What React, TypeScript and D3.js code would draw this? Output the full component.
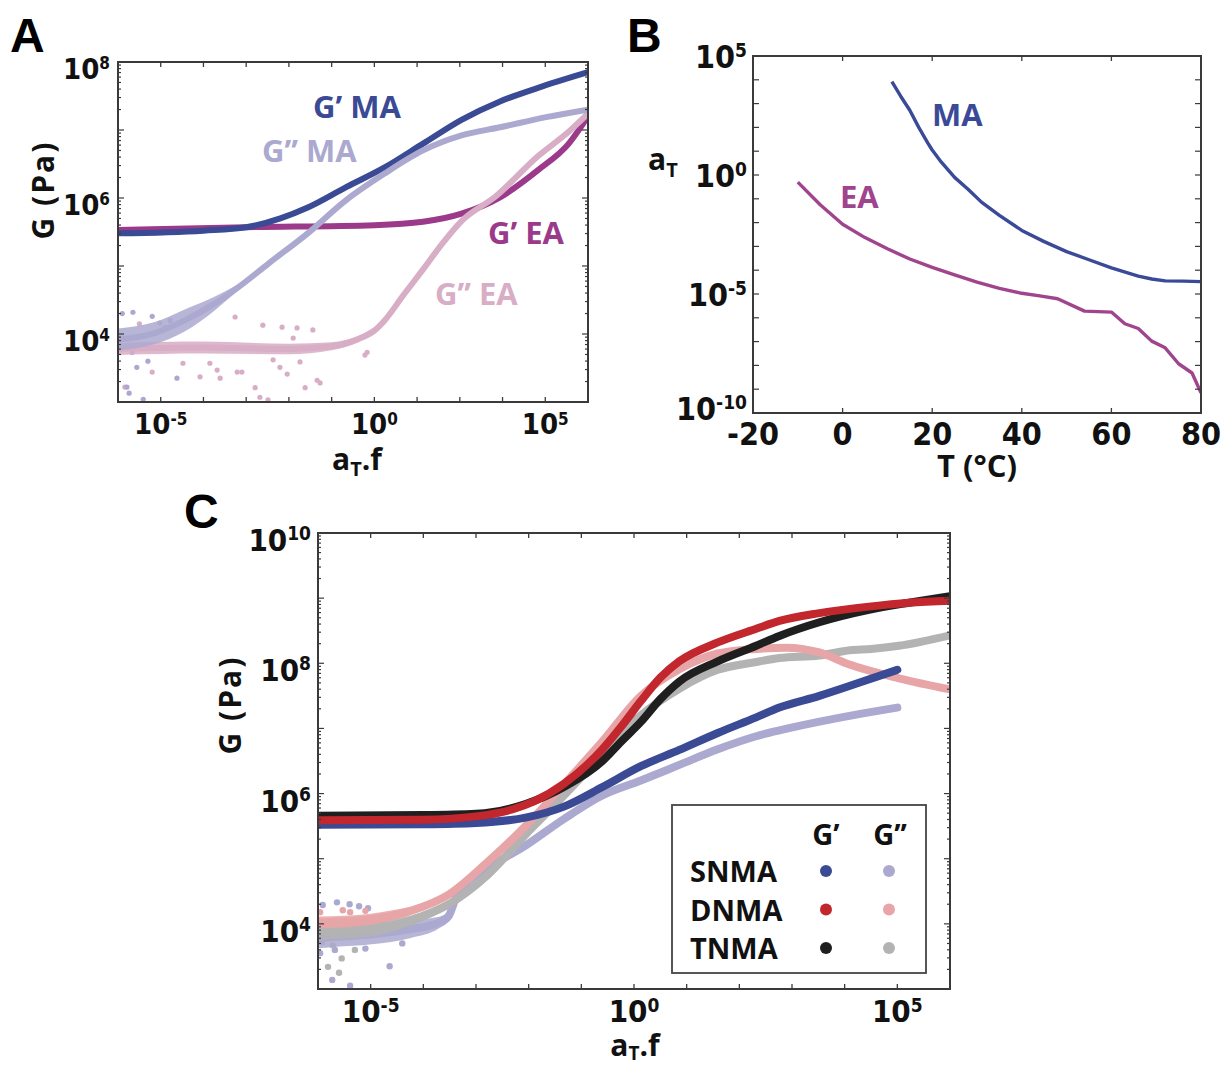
import React from 'react';
import * as d3 from 'd3';

type Pt = [number, number];

// ---------- Panel A data (log10 aT.f, log10 G) ----------
const A_GP_MA: Pt[] = [[-6,5.48],[-4,5.52],[-3,5.57],[-2.2,5.70],[-1.56,5.86],[-0.66,6.16],[0.24,6.45],[1.14,6.80],[2.04,7.15],[2.94,7.42],[3.83,7.62],[5,7.85]];
const A_GPP_MA: Pt[] = [[-6,3.92],[-5.16,4.01],[-4.44,4.2],[-3.73,4.45],[-3.18,4.69],[-2.47,5.04],[-1.56,5.48],[-0.66,5.97],[0.24,6.36],[1.14,6.70],[2.04,6.92],[2.94,7.04],[4.02,7.19],[5,7.3]];
const A_GP_EA: Pt[] = [[-6,5.53],[-3,5.57],[0,5.60],[1.14,5.65],[2.04,5.77],[2.94,6.01],[3.83,6.41],[4.55,6.80],[5,7.2]];
const A_GPP_EA: Pt[] = [[-6,3.78],[-4,3.8],[-2,3.78],[-1,3.82],[-0.4,3.92],[0,4.05],[0.24,4.2],[0.69,4.58],[1.14,4.95],[1.59,5.33],[2.04,5.66],[2.85,6.03],[3.84,6.62],[4.56,6.98],[5,7.24]];
const A_OUT_LAV: Pt[] = [[-5.65,4.32],[-5.2,4.26],[-4.62,3.35],[-5.74,3.13],[-5.41,3.04],[-5.95,3.91],[-5.67,3.73],[-5.56,3.51],[-4.78,4.2],[-5.02,4.16],[-5.79,3.22],[-5.9,4.3],[-5.3,3.6]];
const A_OUT_PINK: Pt[] = [[-5.84,3.22],[-5.2,3.44],[-3.68,3.47],[-3.61,3.35],[-3.21,3.44],[-3.1,3.44],[-2.79,3.21],[-2.68,3.07],[-2.49,3.03],[-2.04,3.41],[-2.37,3.62],[-2.21,3.51],[-1.74,3.59],[-1.62,3.21],[-1.34,3.32],[-1.27,3.28],[-0.17,3.73],[-0.22,3.69],[-3.26,4.25],[-2.61,4.13],[-2.16,4.1],[-1.81,4.09],[-1.44,4.06],[-1.9,3.94],[-3.85,3.57],[-4.08,3.37],[-4.48,3.57],[-5.5,4.15],[-4.9,4.1]];
const A_Y_TICKS = [4, 6, 8];
const A_X_TICK_POS = [-5, 0, 4];
const A_X_TICK_TXT = ['-5', '0', '5'];

// ---------- Panel B data (T in °C, log10 aT) ----------
const B_MA_T = [11,13,15,17,19,20,22,25,28,31,35,40,45,50,55,60,66,69,72,76,80];
const B_MA_A = [3.92,3.3,2.72,2.0,1.35,1.05,0.55,-0.1,-0.6,-1.14,-1.7,-2.33,-2.8,-3.22,-3.56,-3.9,-4.25,-4.37,-4.45,-4.46,-4.48];
const B_EA_T = [-10,-5,0,5,10,15,20,25,30,35,40,44,48,54,60,63,66,69,72,75,78,80];
const B_EA_A = [-0.3,-1.25,-2.07,-2.63,-3.1,-3.53,-3.88,-4.2,-4.5,-4.76,-4.97,-5.08,-5.2,-5.72,-5.76,-6.25,-6.45,-6.98,-7.26,-7.93,-8.32,-9.15];
const B_X_TICKS = [-20, 0, 20, 40, 60, 80];
const B_Y_LABELS = [5, 0, -5, -10];

// ---------- Panel C data (log10 aT.f, log10 G) ----------
const C_SN_GP: Pt[] = [[-6,5.52],[-4,5.53],[-3,5.55],[-2.06,5.63],[-1.33,5.8],[-0.6,6.1],[0.13,6.42],[0.86,6.67],[1.59,6.93],[2.32,7.17],[2.76,7.32],[3.52,7.5],[4.27,7.7],[5,7.9]];
const C_SN_GPP: Pt[] = [[-6,3.78],[-5.7,3.8],[-4.98,3.84],[-4.24,3.92],[-3.7,4.02],[-3.52,4.12],[-3.36,4.44],[-2.78,4.85],[-2.06,5.2],[-1.33,5.61],[-0.6,5.97],[0.13,6.2],[0.86,6.44],[1.59,6.68],[2.32,6.88],[2.76,6.97],[3.5,7.1],[4.27,7.22],[5,7.32]];
const C_DN_GP: Pt[] = [[-6,5.59],[-4,5.6],[-3,5.65],[-2.3,5.76],[-1.9,5.88],[-1.33,6.15],[-0.6,6.68],[-0.24,7.03],[0.13,7.42],[0.5,7.78],[0.86,8.03],[1.59,8.32],[2.32,8.53],[2.76,8.65],[3.52,8.77],[4.46,8.87],[5.22,8.93],[6,8.96]];
const C_DN_GPP: Pt[] = [[-6,4.02],[-5,4.07],[-4.24,4.2],[-3.52,4.45],[-2.78,4.95],[-2.06,5.5],[-1.33,6.14],[-0.6,6.8],[0.13,7.5],[0.86,7.91],[1.59,8.15],[2.32,8.22],[2.9,8.24],[3.5,8.17],[4.09,7.98],[5.03,7.77],[6,7.6]];
const C_TN_GP: Pt[] = [[-6,5.66],[-4,5.67],[-3,5.69],[-2.06,5.84],[-1.33,6.1],[-0.6,6.5],[-0.24,6.8],[0.13,7.1],[0.5,7.45],[0.86,7.72],[1.59,8.03],[2.32,8.27],[2.76,8.42],[3.52,8.63],[4.46,8.82],[5.22,8.93],[6,9.03]];
const C_TN_GPP: Pt[] = [[-6,3.88],[-5,3.93],[-4.24,4.05],[-3.52,4.3],[-2.78,4.75],[-2.06,5.37],[-1.33,5.97],[-0.6,6.6],[0.13,7.2],[0.86,7.61],[1.59,7.9],[2.32,8.02],[2.76,8.08],[3.52,8.12],[4.1,8.2],[4.5,8.22],[5.03,8.27],[6,8.43]];
const C_OUT_LAV: Pt[] = [[-5.91,4.29],[-5.64,4.33],[-5.39,3.05],[-5.73,3.14],[-4.64,3.35],[-5.22,4.27],[-5.05,4.24],[-5.96,3.55],[-5.68,3.6],[-5.4,4.3],[-4.8,4.05],[-5.1,3.62],[-4.4,3.7]];
const C_OUT_GRAY: Pt[] = [[-5.81,3.34],[-5.6,3.25],[-5.55,3.47],[-5.92,3.72],[-5.72,3.67],[-5.3,3.6]];
const C_OUT_PINK: Pt[] = [[-5.96,4.18],[-5.83,4.01],[-5.53,4.21],[-5.39,4.18],[-5.1,4.2]];
const C_Y_TICKS = [4, 6, 8, 10];
const C_X_TICKS = [-5, 0, 5];
const LEGEND_ROWS = ['SNMA', 'DNMA', 'TNMA'];
const LEGEND_COLS = ['G’', 'G’’'];

// ---------- colours ----------
const COL = {
  blue: '#3a4a94', lav: '#aba9d0', mag: '#9b3a8a', pinkEA: '#d8adc6',
  red: '#c1272d', pink: '#e8a5a7', black: '#1f1f1f', gray: '#b3b3b3',
  bMA: '#3b4a98', bEA: '#a0448e', frame: '#3a3a3a',
};
const LEGEND_COLORS = [[COL.blue, COL.lav], [COL.red, COL.pink], [COL.black, COL.gray]];

const TICK_FONT = "'Liberation Sans Narrow','DejaVu Sans Condensed','Arial Narrow',sans-serif";
const LABEL_FONT = "'Open Sans','Noto Sans',sans-serif";
const LETTER_FONT = "'Liberation Sans',Arial,sans-serif";

const p10 = (v: number) => Math.pow(10, v);

type Series = { pts: Pt[]; color: string; w: number; noisyTo?: number; noisyW?: number };

function SeriesPaths({ s, sx, sy }: { s: Series; sx: any; sy: any }) {
  const line = d3.line<Pt>().x(d => sx(p10(d[0]))).y(d => sy(p10(d[1]))).curve(d3.curveMonotoneX);
  let band: string | null = null;
  if (s.noisyTo !== undefined && s.noisyW) {
    const to = s.noisyTo;
    const idx = s.pts.findIndex(d => d[0] > to);
    const pts = idx < 0 ? s.pts : s.pts.slice(0, idx + 1);
    const xa = pts[0][0];
    const full = s.noisyW / 2, thin = s.w / 2;
    const hw = (d: Pt) => {
      const t = Math.min(1, Math.max(0, (d[0] - xa) / (to - xa)));
      if (d[0] > to) return thin;
      return t < 0.6 ? full : full + (thin - full) * ((t - 0.6) / 0.4);
    };
    const area = d3.area<Pt>()
      .x(d => sx(p10(d[0])))
      .y0(d => sy(p10(d[1])) + hw(d))
      .y1(d => sy(p10(d[1])) - hw(d))
      .curve(d3.curveMonotoneX);
    band = area(pts);
  }
  return (
    <g>
      {band && <path d={band} fill={s.color} opacity={0.85} />}
      <path d={line(s.pts) || ''} fill="none" stroke={s.color} strokeWidth={s.w} strokeLinecap="round" strokeLinejoin="round" />
    </g>
  );
}

function Dots({ pts, color, r, sx, sy }: { pts: Pt[]; color: string; r: number; sx: any; sy: any }) {
  return <g>{pts.map((d, i) => <circle key={i} cx={sx(p10(d[0]))} cy={sy(p10(d[1]))} r={r} fill={color} />)}</g>;
}

function LogYTicks({ sy, lo, hi, x0, x1, minor = true }: { sy: any; lo: number; hi: number; x0: number; x1: number; minor?: boolean }) {
  const els: any[] = [];
  for (let e = lo; e <= hi; e++) {
    const y = sy(p10(e));
    els.push(<line key={'M' + e} x1={x0} x2={x0 + 6} y1={y} y2={y} />);
    els.push(<line key={'m' + e} x1={x1} x2={x1 - 6} y1={y} y2={y} />);
    if (minor && e < hi) {
      for (let k = 2; k <= 9; k++) {
        const yy = sy(k * p10(e));
        els.push(<line key={`a${e}_${k}`} x1={x0} x2={x0 + 3} y1={yy} y2={yy} />);
        els.push(<line key={`b${e}_${k}`} x1={x1} x2={x1 - 3} y1={yy} y2={yy} />);
      }
    }
  }
  return <g stroke={COL.frame} strokeWidth={1.2}>{els}</g>;
}

function XTicks({ xs, y0, y1, len = 5 }: { xs: number[]; y0: number; y1: number; len?: number }) {
  return (
    <g stroke={COL.frame} strokeWidth={1.3}>
      {xs.map((x, i) => (
        <g key={i}>
          <line x1={x} x2={x} y1={y1} y2={y1 - len} />
          <line x1={x} x2={x} y1={y0} y2={y0 + len} />
        </g>
      ))}
    </g>
  );
}

function Pow({ x, y, exp, size, supSize, anchor, dy }: { x: number; y: number; exp: string; size: number; supSize: number; anchor: string; dy: number }) {
  return (
    <text x={x} y={y} fontFamily={TICK_FONT} fontWeight={700} fontSize={size} textAnchor={anchor as any} fill="#111">
      10<tspan fontSize={supSize} dy={-dy}>{exp}</tspan>
    </text>
  );
}

export default function App() {
  // ----- Panel A -----
  const A = { x0: 118, x1: 588, y0: 62, y1: 402 };
  const ax = d3.scaleLog().domain([1e-6, 1e5]).range([A.x0, A.x1]);
  const ay = d3.scaleLog().domain([1e3, 1e8]).range([A.y1, A.y0]);
  const aXticks = d3.range(-5, 5).map(e => ax(p10(e)));

  // ----- Panel B -----
  const B = { x0: 753, x1: 1201, y0: 56, y1: 413 };
  const bx = d3.scaleLinear().domain([-20, 80]).range([B.x0, B.x1]);
  const by = d3.scaleLog().domain([1e-10, 1e5]).range([B.y1, B.y0]);
  const bLine = d3.line<[number, number]>().x(d => bx(d[0])).y(d => by(p10(d[1])));
  const maPts = B_MA_T.map((t, i) => [t, B_MA_A[i]] as [number, number]);
  const eaPts = B_EA_T.map((t, i) => [t, B_EA_A[i]] as [number, number]);

  // ----- Panel C -----
  const C = { x0: 318, x1: 950, y0: 533, y1: 989 };
  const cx = d3.scaleLog().domain([1e-6, 1e6]).range([C.x0, C.x1]);
  const cy = d3.scaleLog().domain([1e3, 1e10]).range([C.y1, C.y0]);
  const cXticks = d3.range(-5, 6).map(e => cx(p10(e)));

  const aSeries: Series[] = [
    { pts: A_GP_EA, color: COL.mag, w: 6 },
    { pts: A_GP_MA, color: COL.blue, w: 6 },
    { pts: A_GPP_EA, color: COL.pinkEA, w: 6, noisyTo: -0.2, noisyW: 12 },
    { pts: A_GPP_MA, color: COL.lav, w: 6, noisyTo: -3.2, noisyW: 22 },
  ];
  const cSeries: Series[] = [
    { pts: C_SN_GPP, color: COL.lav, w: 8, noisyTo: -3.4, noisyW: 20 },
    { pts: C_TN_GPP, color: COL.gray, w: 8, noisyTo: -4.0, noisyW: 16 },
    { pts: C_DN_GPP, color: COL.pink, w: 8, noisyTo: -4.5, noisyW: 12 },
    { pts: C_SN_GP, color: COL.blue, w: 8 },
    { pts: C_TN_GP, color: COL.black, w: 8 },
    { pts: C_DN_GP, color: COL.red, w: 8 },
  ];

  return (
    <svg width={1229} height={1068} viewBox="0 0 1229 1068" style={{ display: 'block', position: 'absolute', left: 0, top: 0, background: '#fff' }}>
      <defs>
        <clipPath id="clipA"><rect x={A.x0} y={A.y0} width={A.x1 - A.x0} height={A.y1 - A.y0} /></clipPath>
        <clipPath id="clipB"><rect x={B.x0} y={B.y0} width={B.x1 - B.x0} height={B.y1 - B.y0} /></clipPath>
        <clipPath id="clipC"><rect x={C.x0} y={C.y0} width={C.x1 - C.x0} height={C.y1 - C.y0} /></clipPath>
      </defs>
      <rect x={0} y={0} width={1229} height={1068} fill="#fff" />

      {/* ===== Panel A ===== */}
      <text x={10} y={52} fontFamily={LETTER_FONT} fontWeight={700} fontSize={48} fill="#000">A</text>
      <g clipPath="url(#clipA)">
        <Dots pts={A_OUT_PINK} color={COL.pinkEA} r={2.6} sx={ax} sy={ay} />
        <Dots pts={A_OUT_LAV} color={COL.lav} r={2.6} sx={ax} sy={ay} />
        {aSeries.map((s, i) => <SeriesPaths key={i} s={s} sx={ax} sy={ay} />)}
      </g>
      <LogYTicks sy={ay} lo={3} hi={8} x0={A.x0} x1={A.x1} />
      <XTicks xs={aXticks} y0={A.y0} y1={A.y1} />
      <rect x={A.x0} y={A.y0} width={A.x1 - A.x0} height={A.y1 - A.y0} fill="none" stroke={COL.frame} strokeWidth={2} />
      {A_Y_TICKS.map(e => <Pow key={e} x={A.x0 - 8} y={ay(p10(e)) + 17} exp={String(e)} size={29} supSize={17} anchor="end" dy={10} />)}
      {A_X_TICK_POS.map((e, i) => <Pow key={e} x={ax(p10(e))} y={A.y1 + 32} exp={A_X_TICK_TXT[i]} size={29} supSize={17} anchor="middle" dy={9} />)}
      <text transform={`translate(54,190) rotate(-90)`} textAnchor="middle" fontFamily={LABEL_FONT} fontWeight={700} fontSize={30} letterSpacing={2} fill="#111">G (Pa)</text>
      <text x={357} y={470} textAnchor="middle" fontFamily={LABEL_FONT} fontWeight={700} fontSize={30} fill="#111">a<tspan fontSize={20} dy={6}>T</tspan><tspan dy={-6}>.f</tspan></text>
      <text x={313} y={118} fontFamily={LABEL_FONT} fontWeight={700} fontSize={31} fill={COL.blue}>G’ MA</text>
      <text x={262} y={162} fontFamily={LABEL_FONT} fontWeight={700} fontSize={31} fill={COL.lav}>G’’ MA</text>
      <text x={488} y={244} fontFamily={LABEL_FONT} fontWeight={700} fontSize={31} fill={COL.mag}>G’ EA</text>
      <text x={435} y={305} fontFamily={LABEL_FONT} fontWeight={700} fontSize={31} fill={COL.pinkEA}>G’’ EA</text>

      {/* ===== Panel B ===== */}
      <text x={627} y={52} fontFamily={LETTER_FONT} fontWeight={700} fontSize={48} fill="#000">B</text>
      <g clipPath="url(#clipB)">
        <path d={bLine(maPts) || ''} fill="none" stroke={COL.bMA} strokeWidth={3.4} strokeLinejoin="round" />
        <path d={bLine(eaPts) || ''} fill="none" stroke={COL.bEA} strokeWidth={3.4} strokeLinejoin="round" />
      </g>
      <LogYTicks sy={by} lo={-10} hi={5} x0={B.x0} x1={B.x1} minor={false} />
      <XTicks xs={B_X_TICKS.map(t => bx(t))} y0={B.y0} y1={B.y1} />
      <rect x={B.x0} y={B.y0} width={B.x1 - B.x0} height={B.y1 - B.y0} fill="none" stroke={COL.frame} strokeWidth={2} />
      {B_Y_LABELS.map(e => <Pow key={e} x={B.x0 - 6} y={by(p10(e)) + (e === -10 ? 7 : 12)} exp={String(e)} size={32} supSize={19} anchor="end" dy={11} />)}
      {B_X_TICKS.map(t => (
        <text key={t} x={bx(t)} y={B.y1 + 32} textAnchor="middle" fontFamily={TICK_FONT} fontWeight={700} fontSize={32} fill="#111">{t}</text>
      ))}
      <text x={648} y={170} fontFamily={LABEL_FONT} fontWeight={700} fontSize={30} fill="#111">a<tspan fontSize={20} dy={7}>T</tspan></text>
      <text x={977} y={477} textAnchor="middle" fontFamily={LABEL_FONT} fontWeight={700} fontSize={31} fill="#111">T (°C)</text>
      <text x={932} y={126} fontFamily={LABEL_FONT} fontWeight={700} fontSize={31} fill={COL.bMA}>MA</text>
      <text x={840} y={208} fontFamily={LABEL_FONT} fontWeight={700} fontSize={31} fill={COL.bEA}>EA</text>

      {/* ===== Panel C ===== */}
      <text x={184} y={528} fontFamily={LETTER_FONT} fontWeight={700} fontSize={48} fill="#000">C</text>
      <g clipPath="url(#clipC)">
        <Dots pts={C_OUT_LAV} color={COL.lav} r={3.2} sx={cx} sy={cy} />
        <Dots pts={C_OUT_GRAY} color={COL.gray} r={3.2} sx={cx} sy={cy} />
        <Dots pts={C_OUT_PINK} color={COL.pink} r={3.2} sx={cx} sy={cy} />
        {cSeries.map((s, i) => <SeriesPaths key={i} s={s} sx={cx} sy={cy} />)}
      </g>
      <LogYTicks sy={cy} lo={3} hi={10} x0={C.x0} x1={C.x1} />
      <XTicks xs={cXticks} y0={C.y0} y1={C.y1} />
      <rect x={C.x0} y={C.y0} width={C.x1 - C.x0} height={C.y1 - C.y0} fill="none" stroke={COL.frame} strokeWidth={2} />
      {C_Y_TICKS.map(e => <Pow key={e} x={C.x0 - 7} y={cy(p10(e)) + 18} exp={String(e)} size={31} supSize={19} anchor="end" dy={11} />)}
      {C_X_TICKS.map(e => <Pow key={e} x={cx(p10(e))} y={C.y1 + 33} exp={String(e)} size={31} supSize={19} anchor="middle" dy={10} />)}
      <text transform={`translate(241,705) rotate(-90)`} textAnchor="middle" fontFamily={LABEL_FONT} fontWeight={700} fontSize={30} letterSpacing={2} fill="#111">G (Pa)</text>
      <text x={635} y={1056} textAnchor="middle" fontFamily={LABEL_FONT} fontWeight={700} fontSize={30} fill="#111">a<tspan fontSize={19} dy={4}>T</tspan><tspan dy={-4}>.f</tspan></text>

      {/* legend */}
      <rect x={672} y={805} width={254} height={168} fill="#fff" stroke="#444" strokeWidth={1.8} />
      {LEGEND_COLS.map((c, j) => (
        <text key={c} x={[826, 890][j]} y={845} textAnchor="middle" fontFamily={LABEL_FONT} fontWeight={700} fontSize={29} fill="#111">{c}</text>
      ))}
      {LEGEND_ROWS.map((r, i) => (
        <g key={r}>
          <text x={690} y={882 + i * 38.5} fontFamily={LABEL_FONT} fontWeight={700} fontSize={29} fill="#111">{r}</text>
          {LEGEND_COLORS[i].map((c, j) => <circle key={j} cx={[826, 889][j]} cy={871 + i * 38.5} r={6} fill={c} />)}
        </g>
      ))}
    </svg>
  );
}
